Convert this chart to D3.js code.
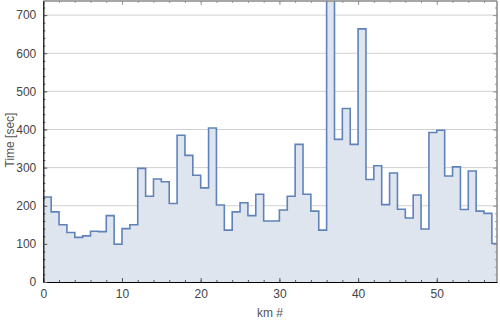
<!DOCTYPE html>
<html>
<head>
<meta charset="utf-8">
<script src="https://cdn.jsdelivr.net/npm/d3@7"></script>
<style>
  body { margin: 0; background: #fff; }
  svg { display: block; font-family: "Liberation Sans", Arial, sans-serif; }
</style>
</head>
<body>
<svg id="chart" width="500" height="320"></svg>
<script>
// seconds per km, one bin per km (last km is partial)
const KM_START = [0, 1, 2, 3, 4, 5, 6, 7, 8, 9, 10, 11, 12, 13, 14, 15, 16, 17, 18, 19,
  20, 21, 22, 23, 24, 25, 26, 27, 28, 29, 30, 31, 32, 33, 34, 35, 36, 37, 38, 39,
  40, 41, 42, 43, 44, 45, 46, 47, 48, 49, 50, 51, 52, 53, 54, 55, 56, 57];
const KM_END = 57.65;
const SECONDS = [223, 184, 150, 130, 117, 121, 133, 132, 174, 99, 140, 150, 298, 225, 270, 263,
  206, 385, 332, 280, 247, 404, 202, 136, 184, 208, 174, 230, 160, 160, 189, 225,
  361, 230, 186, 136, 900, 374, 455, 361, 664, 269, 305, 203, 286, 191, 168, 228,
  139, 392, 398, 278, 302, 190, 291, 186, 180, 101];
const X_TICKS = [0, 10, 20, 30, 40, 50];
const Y_TICKS = [0, 100, 200, 300, 400, 500, 600, 700];

const margin = { top: 1, right: 3, bottom: 38, left: 43.3 },
  width = 500 - margin.left - margin.right,
  height = 320 - margin.top - margin.bottom;

const svg = d3.select("#chart");
const g = svg.append("g").attr("transform", `translate(${margin.left},${margin.top})`);

const x = d3.scaleLinear().domain([0, KM_END]).range([0, width]);
const y = d3.scaleLinear().domain([0, 737]).range([height, 0]);

svg.append("defs").append("clipPath").attr("id", "clip")
  .append("rect").attr("width", width).attr("height", height);

// grid
g.append("g")
  .selectAll("line")
  .data(Y_TICKS.filter((d) => d > 0))
  .join("line")
  .attr("x1", 0).attr("x2", width)
  .attr("y1", (d) => y(d)).attr("y2", (d) => y(d))
  .attr("stroke", "#d0d0d0").attr("stroke-width", 1);

const pts = KM_START.map((k, i) => [k, SECONDS[i]]);
pts.push([KM_END, SECONDS[SECONDS.length - 1]]);

const plot = g.append("g").attr("clip-path", "url(#clip)");

plot.append("path")
  .datum(pts)
  .attr("fill", "#dfe5ef")
  .attr("d", d3.area().curve(d3.curveStepAfter)
    .x((d) => x(d[0])).y0(y(0)).y1((d) => y(d[1])));

plot.append("path")
  .datum(pts)
  .attr("fill", "none")
  .attr("stroke", "#5f83b9")
  .attr("stroke-width", 1.6)
  .attr("d", d3.line().curve(d3.curveStepAfter)
    .x((d) => x(d[0])).y((d) => y(d[1])));

// frame: top and right in grey, with ticks pointing inward
const minorX = d3.range(0, KM_END, 2);
const minorY = d3.range(0, 737, 20);

const tickStyle = (sel) => sel.call((s) => s.select(".domain").remove())
  .call((s) => s.selectAll(".tick text").remove());

g.append("g")
  .call(d3.axisTop(x).tickValues(minorX).tickSize(-2).tickFormat(""))
  .call(tickStyle).selectAll("line").attr("stroke", "#999");
g.append("g")
  .call(d3.axisTop(x).tickValues(X_TICKS).tickSize(-4).tickFormat(""))
  .call(tickStyle).selectAll("line").attr("stroke", "#999");
g.append("g").attr("transform", `translate(${width},0)`)
  .call(d3.axisRight(y).tickValues(minorY).tickSize(-2).tickFormat(""))
  .call(tickStyle).selectAll("line").attr("stroke", "#999");
g.append("g").attr("transform", `translate(${width},0)`)
  .call(d3.axisRight(y).tickValues(Y_TICKS).tickSize(-4).tickFormat(""))
  .call(tickStyle).selectAll("line").attr("stroke", "#999");
g.append("line").attr("x1", 0).attr("x2", width).attr("y1", 0).attr("y2", 0)
  .attr("stroke", "#888").attr("stroke-width", 1.5);
g.append("line").attr("x1", width).attr("x2", width).attr("y1", 0).attr("y2", height)
  .attr("stroke", "#888").attr("stroke-width", 1.5);

// bottom axis
g.append("g").attr("transform", `translate(0,${height})`)
  .call(d3.axisTop(x).tickValues(minorX).tickSize(2).tickFormat(""))
  .call(tickStyle).selectAll("line").attr("stroke", "#555");
const xAxis = g.append("g").attr("transform", `translate(0,${height})`)
  .call(d3.axisBottom(x).tickValues(X_TICKS).tickSizeInner(-4).tickSizeOuter(0).tickPadding(7));
xAxis.select(".domain").attr("stroke", "#000").attr("stroke-width", 1.2);
xAxis.selectAll(".tick line").attr("stroke", "#555");
xAxis.selectAll(".tick text").attr("fill", "#444").attr("font-size", 12)
  .attr("font-family", "Liberation Sans, Arial, sans-serif");

// left axis
g.append("g")
  .call(d3.axisRight(y).tickValues(minorY).tickSize(2).tickFormat(""))
  .call(tickStyle).selectAll("line").attr("stroke", "#555");
const yAxis = g.append("g")
  .call(d3.axisLeft(y).tickValues(Y_TICKS).tickSizeInner(-4).tickSizeOuter(0).tickPadding(7));
yAxis.select(".domain").attr("stroke", "#000").attr("stroke-width", 1.2);
yAxis.selectAll(".tick line").attr("stroke", "#555");
yAxis.selectAll(".tick text").attr("fill", "#444").attr("font-size", 12)
  .attr("font-family", "Liberation Sans, Arial, sans-serif");

// axis titles
svg.append("text")
  .attr("x", 270).attr("y", 317)
  .attr("text-anchor", "middle")
  .attr("fill", "#555").attr("font-size", 12)
  .text("km #");

svg.append("text")
  .attr("transform", "translate(14,140) rotate(-90)")
  .attr("text-anchor", "middle")
  .attr("fill", "#555").attr("font-size", 12)
  .text("Time [sec]");
</script>
</body>
</html>
